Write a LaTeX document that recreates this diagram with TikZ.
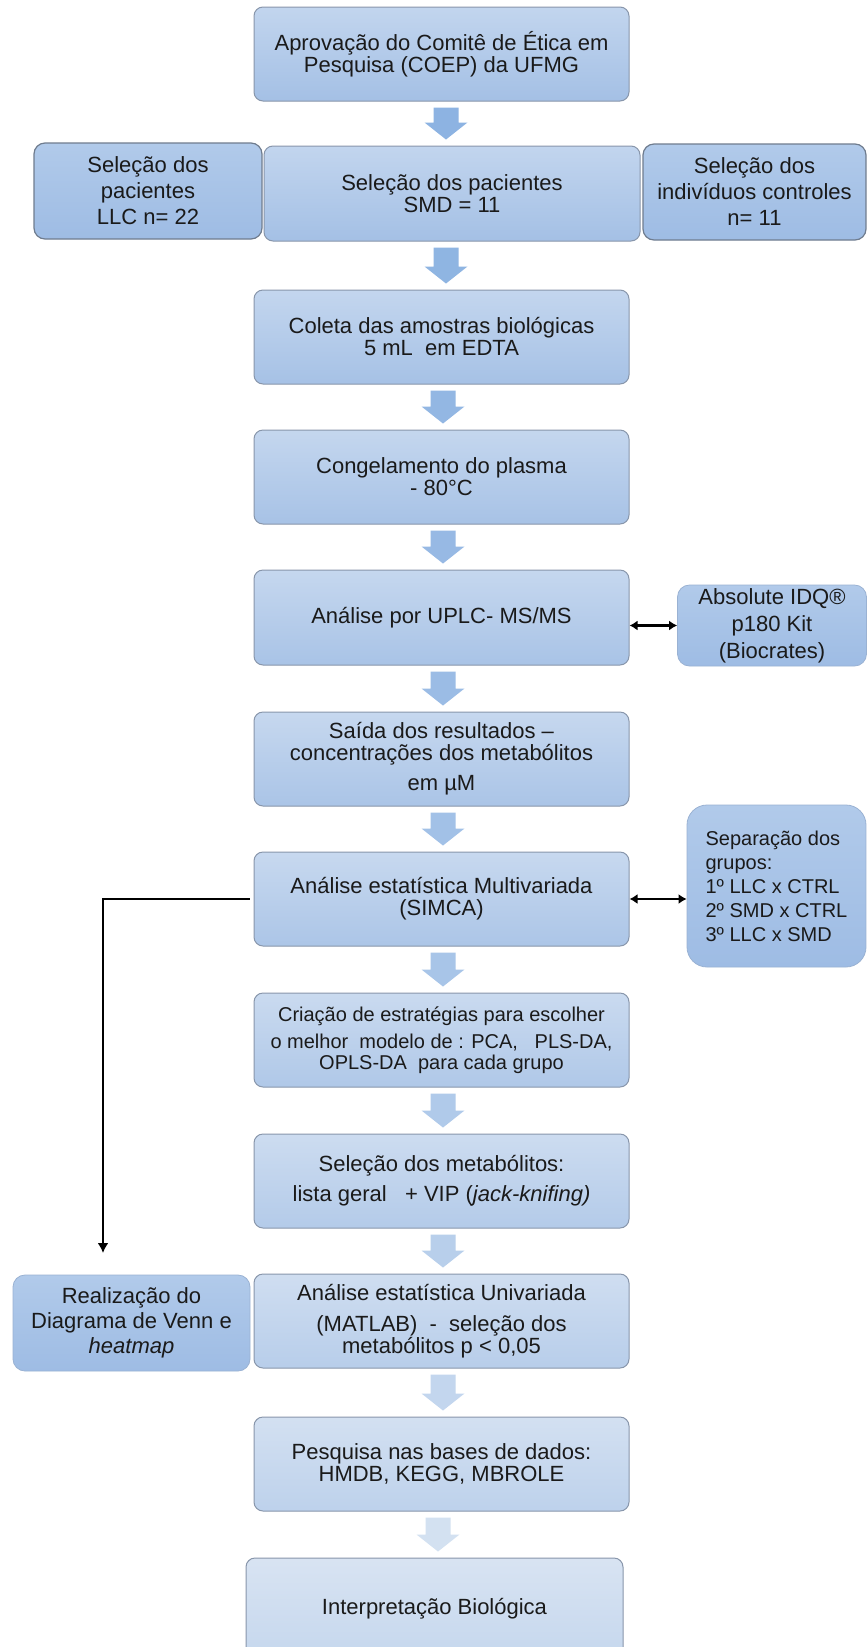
\documentclass[tikz,border=0pt]{standalone}
\usepackage{fontspec}
\setmainfont{Liberation Sans}
\usetikzlibrary{calc,arrows.meta}

\definecolor{boxtopA}{HTML}{C2D5EE}
\definecolor{boxbotA}{HTML}{A4C0E5}
\definecolor{boxtopB}{HTML}{DCE6F3}
\definecolor{boxbotB}{HTML}{CBDBEF}
\definecolor{boxline}{HTML}{8896AB}
\definecolor{sidetop}{HTML}{B1CAEA}
\definecolor{sidebot}{HTML}{9EBCE4}
\definecolor{sideline}{HTML}{6F7C8E}
\definecolor{softline}{HTML}{9AB2D3}
\definecolor{arrowA}{HTML}{8DB3E2}
\definecolor{arrowB}{HTML}{DDE7F3}
\definecolor{ink}{HTML}{1A1A1A}

\tikzset{
  txt/.style={font=\fontsize{22}{22}\selectfont, text=ink, align=center, inner sep=0pt},
  mbox/.style={txt, draw=boxline, line width=1pt, rounded corners=9pt,
    top color=boxtopA!#1!boxtopB, bottom color=boxbotA!#1!boxbotB,
    minimum width=375pt, minimum height=94pt},
  sidebox/.style={txt, draw=sideline, line width=1.2pt, rounded corners=11pt,
    top color=sidetop, bottom color=sidebot},
  softbox/.style={txt, draw=softline, line width=0.8pt, rounded corners=12pt,
    top color=sidetop, bottom color=sidebot},
  dbl/.style={line width=2.2pt, draw=black,
    {Latex[length=8pt,width=10pt]}-{Latex[length=8pt,width=10pt]}},
  conn/.style={line width=2pt, draw=black, -{Latex[length=10pt,width=11pt]}},
}

% block arrow from the lower edge of #1 to the upper edge of #2,
% axis at x = #3, filled with #4
\newcommand\flowarrow[4]{%
  \fill[#4] let \p1=(#1.south), \p2=(#2.north) in
    (#3pt-12.5pt,\y1-6pt) -- (#3pt+12.5pt,\y1-6pt) -- (#3pt+12.5pt,\y2+23pt)
    -- (#3pt+21.5pt,\y2+23pt) -- (#3pt,\y2+6pt) -- (#3pt-21.5pt,\y2+23pt)
    -- (#3pt-12.5pt,\y2+23pt) -- cycle;
}

\begin{document}
\begin{tikzpicture}[x=1pt,y=-1pt]
\useasboundingbox[fill=white] (0,0) rectangle (867,1647);

% main column
\node[mbox=100] (b1) at (441.5,54) {Aprovação do Comitê de Ética em\\Pesquisa (COEP) da UFMG};
\node[mbox=100, minimum width=376pt, minimum height=95pt] (b2) at (452,193.5)
  {Seleção dos pacientes\\SMD = 11};
\node[mbox=95] (b3) at (441.5,337) {Coleta das amostras biológicas\\5 mL\ \ em EDTA};
\node[mbox=92] (b4) at (441.5,477) {Congelamento do plasma\\- 80°C};
\node[mbox=88, minimum height=95pt] (b5) at (441.5,617.5) {Análise por UPLC- MS/MS};
\node[mbox=84] (b6) at (441.5,759)
  {Saída dos resultados –\\concentrações dos metabólitos\\[8pt]em µM};
\node[mbox=80] (b7) at (441.5,899) {Análise estatística Multivariada\\(SIMCA)};
\node[mbox=70, font=\fontsize{20}{21}\selectfont] (b8) at (441.5,1040)
  {Criação de estratégias para escolher\\[6pt]o melhor\ \ modelo de : PCA,\ \ \ PLS-DA,\\OPLS-DA\ \ para cada grupo};
\node[mbox=60] (b9) at (441.5,1181)
  {Seleção dos metabólitos:\\[8pt]lista geral\ \ \ + VIP (\textit{jack-knifing)}};
\node[mbox=50] (b10) at (441.5,1321)
  {Análise estatística Univariada\\[9pt](MATLAB)\ \ -\ \ seleção dos\\metabólitos p < 0,05};
\node[mbox=35] (b11) at (441.5,1464) {Pesquisa nas bases de dados:\\HMDB, KEGG, MBROLE};
\node[mbox=15, minimum width=377pt, minimum height=102pt] (b12) at (434.5,1609)
  {Interpretação Biológica};

% side boxes
\node[sidebox, minimum width=228pt, minimum height=96pt, font=\fontsize{22}{26}\selectfont]
  (llc) at (148,191) {Seleção dos\\pacientes\\LLC n= 22};
\node[sidebox, minimum width=223pt, minimum height=96pt, font=\fontsize{22}{26}\selectfont]
  (ctrl) at (754.5,192) {Seleção dos\\indivíduos controles\\n= 11};
\node[softbox, minimum width=189pt, minimum height=81pt, font=\fontsize{22}{27}\selectfont]
  (kit) at (772,625.5) {Absolute IDQ®\\p180 Kit\\(Biocrates)};
\node[softbox, rounded corners=20pt, align=left, minimum width=179pt, minimum height=162pt,
  font=\fontsize{20}{24}\selectfont]
  (sep) at (776.5,886) {Separação dos\\grupos:\\1º LLC x CTRL\\2º SMD x CTRL\\3º LLC x SMD};
\node[softbox, minimum width=237pt, minimum height=96pt, font=\fontsize{22}{25}\selectfont]
  (venn) at (131.5,1323) {Realização do\\Diagrama de Venn e\\\textit{heatmap}};

% block arrows down the main column
\flowarrow{b1}{b2}{446}{arrowA}
\flowarrow{b2}{b3}{446}{arrowA!97!arrowB}
\flowarrow{b3}{b4}{443}{arrowA!93!arrowB}
\flowarrow{b4}{b5}{443}{arrowA!88!arrowB}
\flowarrow{b5}{b6}{443}{arrowA!82!arrowB}
\flowarrow{b6}{b7}{443}{arrowA!74!arrowB}
\flowarrow{b7}{b8}{443}{arrowA!66!arrowB}
\flowarrow{b8}{b9}{443}{arrowA!56!arrowB}
\flowarrow{b9}{b10}{443}{arrowA!46!arrowB}
\flowarrow{b10}{b11}{443}{arrowA!32!arrowB}
\flowarrow{b11}{b12}{438}{arrowA!12!arrowB}

% two-way links to the side boxes
\draw[dbl] (b5.east |- kit.west) -- (kit.west);
\draw[dbl] (b7.east) -- (b7.east -| sep.west);

% branch from the multivariate analysis down to the Venn diagram
\coordinate (vtip) at (103,1253);
\draw[conn] ([xshift=-4pt]b7.west) -| (vtip);
\end{tikzpicture}
\end{document}
